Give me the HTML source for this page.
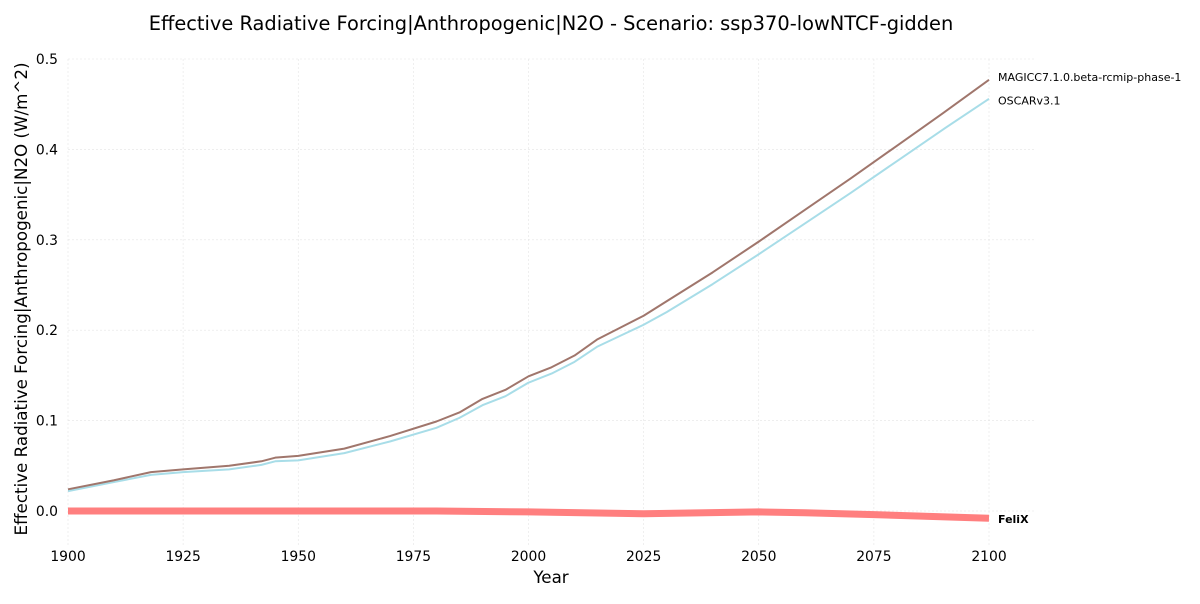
<!DOCTYPE html>
<html><head><meta charset="utf-8"><style>
body{margin:0;background:#fff;font-family:"DejaVu Sans","Liberation Sans",sans-serif}
svg text{font-family:"DejaVu Sans","Liberation Sans",sans-serif}
</style></head><body>
<svg id="chart" width="1200" height="600" xmlns="http://www.w3.org/2000/svg">
<text x="551" y="30" font-size="19.4" text-anchor="middle">Effective Radiative Forcing|Anthropogenic|N2O - Scenario: ssp370-lowNTCF-gidden</text>
<g id="grid"></g>
<g id="axes"></g>
<g id="series"></g>
<text x="551" y="583" font-size="16.7" text-anchor="middle">Year</text>
<text transform="translate(27,299) rotate(-90)" font-size="16.7" text-anchor="middle">Effective Radiative Forcing|Anthropogenic|N2O (W/m^2)</text>
</svg>
<script>
const years=[1900,1910,1918,1925,1935,1942,1945,1950,1960,1970,1980,1985,1990,1995,2000,2005,2010,2015,2020,2025,2030,2040,2050,2060,2070,2080,2090,2100];
const magicc=[0.024,0.034,0.043,0.046,0.050,0.055,0.059,0.061,0.069,0.083,0.099,0.109,0.124,0.134,0.149,0.159,0.172,0.190,0.203,0.216,0.232,0.264,0.298,0.333,0.368,0.404,0.440,0.477];
const oscar=[0.022,0.032,0.040,0.043,0.046,0.051,0.055,0.056,0.064,0.077,0.092,0.103,0.117,0.127,0.142,0.152,0.165,0.182,0.194,0.206,0.220,0.251,0.284,0.318,0.352,0.387,0.422,0.456];
const felixYears=[1900,1950,1980,2000,2025,2050,2060,2075,2100];
const felix=[0,0,0,-0.001,-0.003,-0.001,-0.002,-0.004,-0.008];
const xTicks=[1900,1925,1950,1975,2000,2025,2050,2075,2100];
const yTicks=[0.0,0.1,0.2,0.3,0.4,0.5];
const NS="http://www.w3.org/2000/svg";
const X=v=>68+(v-1900)*921/200;
const Y=v=>511-v*904;
const L=68,R=1035,T=59,B=545;
function mk(tag,attrs,parent){const e=document.createElementNS(NS,tag);for(const k in attrs)e.setAttribute(k,attrs[k]);parent.appendChild(e);return e;}
const grid=document.getElementById('grid'),axes=document.getElementById('axes'),ser=document.getElementById('series');
xTicks.forEach(t=>{
 const g=mk('line',{x1:X(t),x2:X(t),y1:T,y2:B,stroke:'#e4e4e4','stroke-width':0.6,'stroke-dasharray':'2,2'},grid);
 
 const tx=mk('text',{x:X(t),y:B+16,'font-size':13.9,'text-anchor':'middle'},axes);tx.textContent=t;
 
});
yTicks.forEach(t=>{
 const g=mk('line',{x1:L,x2:R,y1:Y(t),y2:Y(t),stroke:'#e4e4e4','stroke-width':0.6,'stroke-dasharray':'2,2'},grid);
 
 const tx=mk('text',{x:L-10,y:Y(t)+5,'font-size':13.9,'text-anchor':'end'},axes);tx.textContent=t.toFixed(1);
 
});
function line(xs,ys,color,w,name){
 const p=mk('polyline',{points:xs.map((x,i)=>X(x)+','+Y(ys[i])).join(' '),fill:'none',stroke:color,'stroke-width':w,'stroke-linejoin':'round'},ser);
 
}
line(felixYears,felix,'#ff7f7f',7,'felix-line');
line(years,oscar,'#a8dde8',2,'oscar-line');
line(years,magicc,'#a0766c',2,'magicc-line');
function lab(txt,v,bold,name){
 const t=mk('text',{x:X(2100)+9,y:Y(v)+4,'font-size':11,'font-weight':bold?'bold':'normal'},ser);t.textContent=txt;
 
}
lab('MAGICC7.1.0.beta-rcmip-phase-1',magicc[magicc.length-1]+0.003,false,'magicc-label');
lab('OSCARv3.1',oscar[oscar.length-1]-0.002,false,'oscar-label');
lab('FeliX',felix[felix.length-1]-0.001,true,'felix-label');
</script>
</body></html>
